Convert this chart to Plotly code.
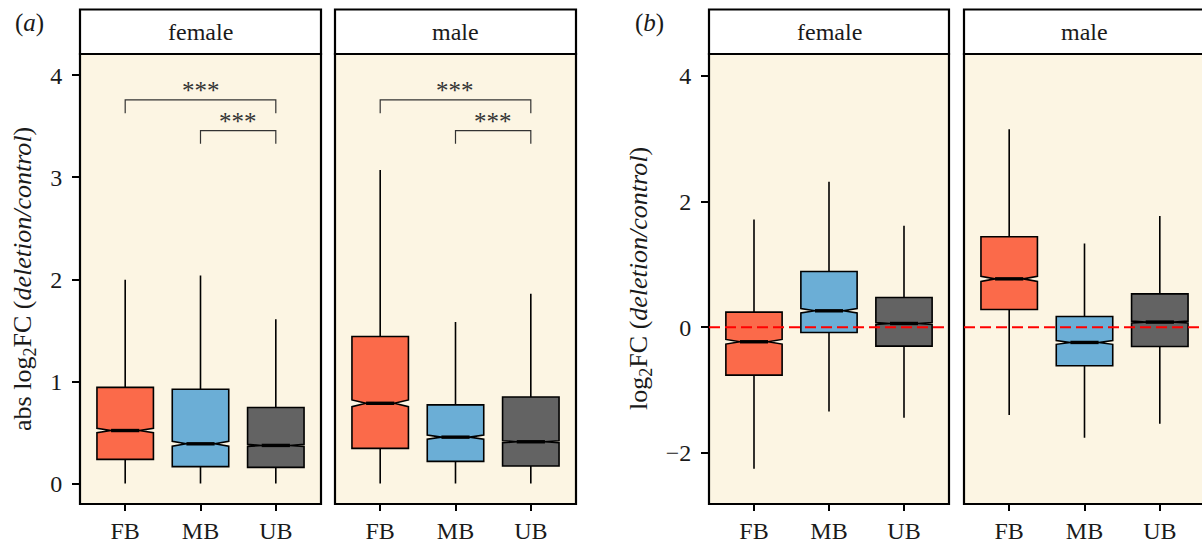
import plotly.graph_objects as go

# ---------------- data ----------------
cats = ["FB", "MB", "UB"]
colors = ["#FB6A4A", "#6BAED6", "#636363"]
facets = ["female", "male"]

# panel (a): abs log2FC
a_female_q1 = [0.237, 0.166, 0.159]
a_female_med = [0.520, 0.390, 0.374]
a_female_q3 = [0.943, 0.924, 0.745]
a_female_lo = [0.0, 0.0, 0.0]
a_female_hi = [1.997, 2.039, 1.610]
a_female_notch = [0.021, 0.024, 0.010]

a_male_q1 = [0.345, 0.218, 0.172]
a_male_med = [0.787, 0.455, 0.410]
a_male_q3 = [1.441, 0.771, 0.849]
a_male_lo = [0.0, 0.0, 0.0]
a_male_hi = [3.072, 1.584, 1.860]
a_male_notch = [0.033, 0.020, 0.010]

# panel (b): log2FC
b_female_q1 = [-0.764, -0.085, -0.302]
b_female_med = [-0.233, 0.260, 0.058]
b_female_q3 = [0.239, 0.887, 0.472]
b_female_lo = [-2.255, -1.342, -1.443]
b_female_hi = [1.715, 2.317, 1.615]
b_female_notch = [0.037, 0.035, 0.015]

b_male_q1 = [0.281, -0.615, -0.308]
b_male_med = [0.769, -0.244, 0.080]
b_male_q3 = [1.440, 0.170, 0.530]
b_male_lo = [-1.400, -1.760, -1.538]
b_male_hi = [3.150, 1.330, 1.768]
b_male_notch = [0.040, 0.030, 0.015]

# significance brackets (panel a, both facets)
sig_start = ["FB", "MB"]
sig_end = ["UB", "UB"]
sig_y = [3.76, 3.46]
sig_label = ["***", "***"]
sig_tip = 0.13

a_yticks = [0, 1, 2, 3, 4]
b_yticks = [-2, 0, 2, 4]
b_yticktext = ["\u22122", "0", "2", "4"]

# ---------------- layout geometry ----------------
W, H = 1202, 544
FONT = "Liberation Serif, Times New Roman, Times, serif"
TXT = "#1a1a1a"
BG = "#FCF5E3"

panel_px = [(80, 321), (335, 576), (709, 949), (964, 1205)]
top_px, bot_px, strip_top_px = 54, 504, 9.5
ydom = [1 - bot_px / H, 1 - top_px / H]

panels = [
    ("a", "female", a_female_q1, a_female_med, a_female_q3, a_female_lo, a_female_hi, a_female_notch),
    ("a", "male", a_male_q1, a_male_med, a_male_q3, a_male_lo, a_male_hi, a_male_notch),
    ("b", "female", b_female_q1, b_female_med, b_female_q3, b_female_lo, b_female_hi, b_female_notch),
    ("b", "male", b_male_q1, b_male_med, b_male_q3, b_male_lo, b_male_hi, b_male_notch),
]

yr = {"a": [-0.2, 4.21], "b": [-2.817, 4.35]}
BOXW = 0.75
NOTCHW = 0.25

fig = go.Figure()
shapes = []
annotations = []

for k, (grp, fac, q1, med, q3, lo, hi, nsp) in enumerate(panels):
    n = k + 1
    xa = "x" if n == 1 else f"x{n}"
    ya = "y" if n == 1 else f"y{n}"
    pos = [1, 2, 3]
    for i, c in enumerate(cats):
        fig.add_trace(go.Box(
            x=[pos[i]], q1=[q1[i]], median=[med[i]], q3=[q3[i]],
            lowerfence=[lo[i]], upperfence=[hi[i]], notchspan=[nsp[i]],
            notched=True, notchwidth=NOTCHW, width=BOXW, whiskerwidth=0,
            fillcolor=colors[i], line=dict(color="black", width=1.6),
            boxpoints=False, showlegend=False, hoverinfo="skip",
            xaxis=xa, yaxis=ya,
        ))
    # thick median segments (ggplot fatten)
    mx, my = [], []
    half = BOXW / 2 * (1 - 2 * NOTCHW)
    for i in range(3):
        mx += [pos[i] - half, pos[i] + half, None]
        my += [med[i], med[i], None]
    fig.add_trace(go.Scatter(x=mx, y=my, mode="lines", line=dict(color="black", width=3.4),
                             showlegend=False, hoverinfo="skip", xaxis=xa, yaxis=ya))

    x0p, x1p = panel_px[k]
    dom = [x0p / W, min(x1p, W) / W]
    xmax = 0.4 + (min(x1p, W) - x0p) * 3.2 / (x1p - x0p)
    xaxis_cfg = dict(
        domain=dom, range=[0.4, xmax], tickvals=[1, 2, 3], ticktext=cats,
        showgrid=False, zeroline=False, showline=False,
        ticks="outside", ticklen=6, tickwidth=2, tickcolor="black",
        ticklabelstandoff=-1,
        tickfont=dict(family=FONT, size=24, color=TXT), anchor=ya,
        fixedrange=True,
    )
    first = fac == "female"
    yaxis_cfg = dict(
        domain=ydom, range=yr[grp], showgrid=False, zeroline=False, showline=False,
        anchor=xa, fixedrange=True,
        tickfont=dict(family=FONT, size=24, color=TXT),
    )
    if first:
        tv = a_yticks if grp == "a" else b_yticks
        tt = [str(v) for v in a_yticks] if grp == "a" else b_yticktext
        yaxis_cfg.update(tickvals=tv, ticktext=tt, ticks="outside", ticklen=7,
                         tickwidth=2, tickcolor="black", ticklabelstandoff=5)
    else:
        yaxis_cfg.update(showticklabels=False, ticks="")
    fig.layout["xaxis" if n == 1 else f"xaxis{n}"] = xaxis_cfg
    fig.layout["yaxis" if n == 1 else f"yaxis{n}"] = yaxis_cfg

    # panel background + border
    shapes.append(dict(type="rect", xref="paper", yref="paper",
                       x0=x0p / W, x1=x1p / W, y0=ydom[0], y1=ydom[1],
                       fillcolor=BG, line=dict(width=0), layer="below"))
    shapes.append(dict(type="rect", xref="paper", yref="paper",
                       x0=x0p / W, x1=x1p / W, y0=ydom[0], y1=ydom[1],
                       fillcolor="rgba(0,0,0,0)", line=dict(color="black", width=2.2), layer="above"))
    # strip
    shapes.append(dict(type="rect", xref="paper", yref="paper",
                       x0=x0p / W, x1=x1p / W, y0=1 - top_px / H, y1=1 - strip_top_px / H,
                       fillcolor="white", line=dict(color="black", width=2.2), layer="above"))
    annotations.append(dict(text=fac, xref="paper", yref="paper",
                            x=(x0p + x1p) / 2 / W, y=1 - 32 / H, showarrow=False,
                            xanchor="center", yanchor="middle",
                            font=dict(family=FONT, size=24, color=TXT)))

    if grp == "a":
        bx, by = [], []
        for s, e, yv in zip(sig_start, sig_end, sig_y):
            xs, xe = pos[cats.index(s)], pos[cats.index(e)]
            bx += [xs, xs, xe, xe, None]
            by += [yv - sig_tip, yv, yv, yv - sig_tip, None]
        fig.add_trace(go.Scatter(x=bx, y=by, mode="lines", line=dict(color="#333333", width=1.2),
                                 showlegend=False, hoverinfo="skip", xaxis=xa, yaxis=ya))
        for s, e, yv, lab in zip(sig_start, sig_end, sig_y, sig_label):
            xs, xe = pos[cats.index(s)], pos[cats.index(e)]
            annotations.append(dict(text=lab, x=(xs + xe) / 2, y=yv, xref=xa, yref=ya,
                                    showarrow=False, xanchor="center", yanchor="bottom",
                                    yshift=-6,
                                    font=dict(family=FONT, size=25, color="#333333")))
    else:
        shapes.append(dict(type="line", xref=f"{xa} domain", yref=ya, x0=0, x1=1, y0=0, y1=0,
                           line=dict(color="#FF0000", width=2, dash="11px,5px"), layer="above"))

# axis titles and panel labels
ymid = 1 - (top_px + bot_px) / 2 / H
annotations.append(dict(text="abs log<sub>2</sub>FC (<i>deletion/control</i>)", xref="paper", yref="paper",
                        x=24 / W, y=ymid, textangle=-90, showarrow=False,
                        xanchor="center", yanchor="middle",
                        font=dict(family=FONT, size=26, color=TXT)))
annotations.append(dict(text="log<sub>2</sub>FC (<i>deletion/control</i>)", xref="paper", yref="paper",
                        x=640 / W, y=ymid, textangle=-90, showarrow=False,
                        xanchor="center", yanchor="middle",
                        font=dict(family=FONT, size=26, color=TXT)))
annotations.append(dict(text="(<i>a</i>)", xref="paper", yref="paper", x=29 / W, y=1 - 23 / H,
                        showarrow=False, xanchor="center", yanchor="middle",
                        font=dict(family=FONT, size=25, color=TXT)))
annotations.append(dict(text="(<i>b</i>)", xref="paper", yref="paper", x=649 / W, y=1 - 23 / H,
                        showarrow=False, xanchor="center", yanchor="middle",
                        font=dict(family=FONT, size=25, color=TXT)))

fig.update_layout(
    width=W, height=H, margin=dict(l=0, r=0, t=0, b=0),
    paper_bgcolor="white", plot_bgcolor="rgba(0,0,0,0)",
    boxmode="overlay", shapes=shapes, annotations=annotations,
    font=dict(family=FONT, color=TXT),
)

fig.write_html("out.html", config={"displayModeBar": False},
               post_script="document.body.style.margin='0px';document.body.style.overflow='hidden';")
